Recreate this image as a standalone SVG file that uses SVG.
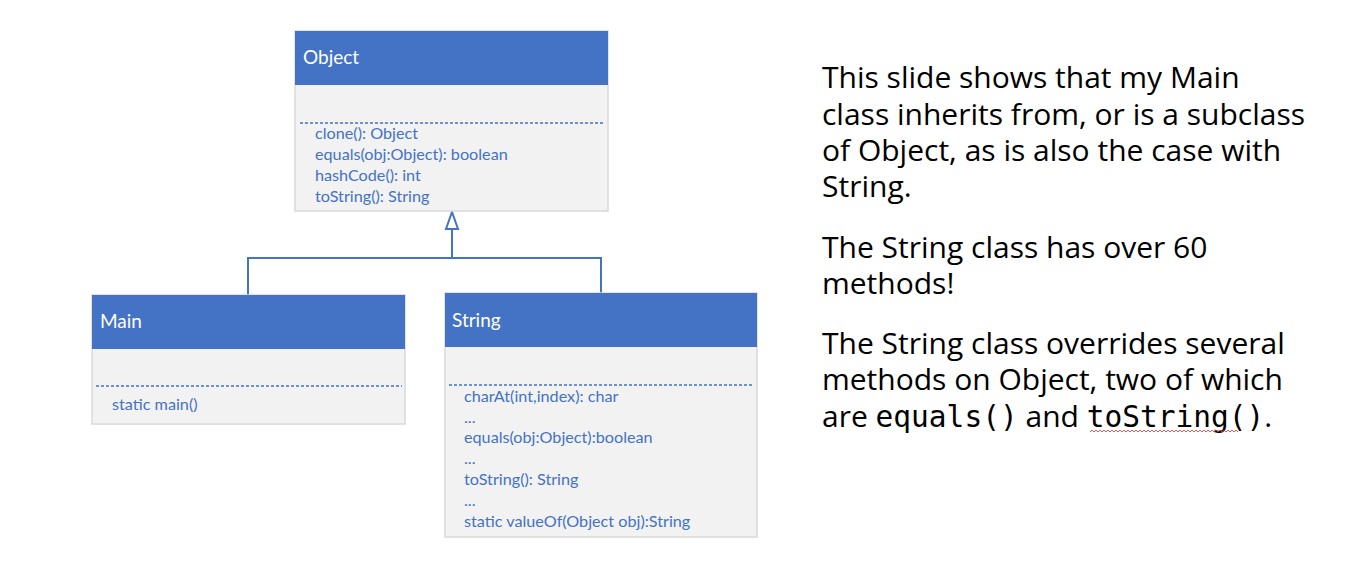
<svg xmlns="http://www.w3.org/2000/svg" width="1348" height="575" viewBox="0 0 1348 575">
<defs>
<style>
.hdr{fill:#4472C4;}
.body{fill:#F2F2F2;stroke:#D9D9D9;stroke-width:1.5;}
.title{font-family:Lato,"Liberation Sans",sans-serif;font-size:19px;fill:#FFFFFF;}
.m{font-family:Lato,"Liberation Sans",sans-serif;font-size:16.2px;fill:#4472C4;}
.dash{stroke:#4472C4;stroke-width:1.5;stroke-dasharray:3,2;fill:none;}
.conn{stroke:#4472C4;stroke-width:2;fill:none;}
.t{font-family:"Open Sans","Noto Sans",sans-serif;font-size:30px;fill:#000000;}
.mono{font-family:"DejaVu Sans Mono","Liberation Mono",monospace;font-size:29.5px;}
</style>
</defs>
<rect x="0" y="0" width="1348" height="575" fill="#FFFFFF"/>

<g id="connectors">
<path class="conn" d="M248,295 L248,258 L601,258 L601,293"/>
<path class="conn" d="M452,258 L452,229"/>
<path d="M452,212 L458,229 L446,229 Z" fill="#FFFFFF" stroke="#4472C4" stroke-width="2"/>
</g>

<g id="node-object">
<rect class="body" x="295" y="31" width="313" height="180"/>
<rect class="hdr" x="295" y="31" width="313" height="54"/>
<text class="title" x="303" y="64">Object</text>
<line class="dash" x1="300" y1="123" x2="605" y2="123"/>
<text class="m" x="315" y="139">clone(): Object</text>
<text class="m" x="315" y="160">equals(obj:Object): boolean</text>
<text class="m" x="315" y="181">hashCode(): int</text>
<text class="m" x="315" y="202">toString(): String</text>
</g>

<g id="node-main">
<rect class="body" x="92" y="295" width="313" height="129"/>
<rect class="hdr" x="92" y="295" width="313" height="54"/>
<text class="title" x="100" y="328">Main</text>
<line class="dash" x1="96" y1="386" x2="402" y2="386"/>
<text class="m" x="112" y="410">static main()</text>
</g>

<g id="node-string">
<rect class="body" x="445" y="293" width="312" height="244"/>
<rect class="hdr" x="445" y="293" width="312" height="54"/>
<text class="title" x="452" y="327">String</text>
<line class="dash" x1="449" y1="385" x2="754" y2="385"/>
<text class="m" x="464" y="402">charAt(int,index): char</text>
<text class="m" x="464" y="423">...</text>
<text class="m" x="464" y="443">equals(obj:Object):boolean</text>
<text class="m" x="464" y="464">...</text>
<text class="m" x="464" y="485">toString(): String</text>
<text class="m" x="464" y="506">...</text>
<text class="m" x="464" y="527">static valueOf(Object obj):String</text>
</g>

<g id="description">
<text class="t" x="822" y="88">This slide shows that my Main</text>
<text class="t" x="822" y="125">class inherits from, or is a subclass</text>
<text class="t" x="822" y="161">of Object, as is also the case with</text>
<text class="t" x="822" y="197">String.</text>
<text class="t" x="822" y="258">The String class has over 60</text>
<text class="t" x="822" y="294">methods!</text>
<text class="t" x="822" y="354">The String class overrides several</text>
<text class="t" x="822" y="390">methods on Object, two of which</text>
<text class="t" x="822" y="427">are <tspan class="mono">equals()</tspan> and <tspan class="mono">toString()</tspan>.</text>
<path d="M1090,432 l2,-2 l2,2 l2,-2 l2,2 l2,-2 l2,2 l2,-2 l2,2 l2,-2 l2,2 l2,-2 l2,2 l2,-2 l2,2 l2,-2 l2,2 l2,-2 l2,2 l2,-2 l2,2 l2,-2 l2,2 l2,-2 l2,2 l2,-2 l2,2 l2,-2 l2,2 l2,-2 l2,2 l2,-2 l2,2 l2,-2 l2,2 l2,-2 l2,2 l2,-2 l2,2 l2,-2 l2,2 l2,-2 l2,2 l2,-2 l2,2 l2,-2 l2,2 l2,-2 l2,2 l2,-2 l2,2 l2,-2 l2,2 l2,-2 l2,2 l2,-2 l2,2 l2,-2 l2,2 l2,-2 l2,2 l2,-2 l2,2 l2,-2 l2,2 l2,-2 l2,2 l2,-2 l2,2 l2,-2 l2,2 l2,-2 l2,2 l2,-2 l2,2" fill="none" stroke="#E03030" stroke-width="0.8"/>
</g>
</svg>
